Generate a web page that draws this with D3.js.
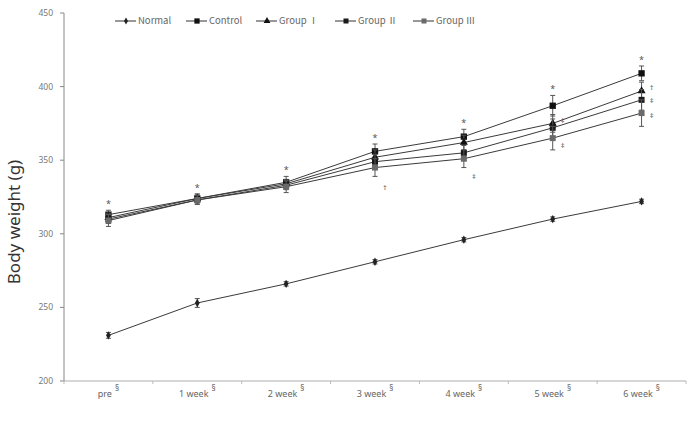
<!DOCTYPE html>
<html>
<head>
<meta charset="utf-8">
<script src="https://cdn.jsdelivr.net/npm/d3@7"></script>
<style>
body { margin: 0; background: #fff; }
svg { font-family: "Noto Sans", "DejaVu Sans", sans-serif; }
</style>
</head>
<body>
<svg id="chart" width="689" height="424"></svg>
<script>
var categories = ["pre", "1 week", "2 week", "3 week", "4 week", "5 week", "6 week"];
var seriesNames = ["Normal", "Control", "Group \u2160", "Group \u2161", "Group \u2162"];
var normal  = [231, 253, 266, 281, 296, 310, 322];
var control = [313, 324, 335, 356, 366, 387, 409];
var group1  = [311, 324, 334, 352, 362, 375, 397];
var group2  = [310, 323, 333, 349, 355, 372, 391];
var group3  = [309, 323, 332, 345, 351, 365, 382];
var normalErr  = [2, 3, 1.5, 1.5, 1.5, 1.5, 1.5];
var controlErr = [3, 3, 4, 5, 5, 7, 5];
var group1Err  = [3, 3, 3, 5, 5, 6, 6];
var group2Err  = [3, 3, 3, 5, 5, 6, 7];
var group3Err  = [4, 3, 4, 6, 6, 8, 9];
var yTicks = [200, 250, 300, 350, 400, 450];
// significance marks: category, value where it sits, symbol
var markCats = ["3 week", "4 week", "5 week", "5 week", "6 week", "6 week", "6 week"];
var markVals = [332, 339, 377, 360, 400, 391, 381];
var markSyms = ["\u2020", "\u2021", "\u2021", "\u2021", "\u2020", "\u2021", "\u2021"];

var svg = d3.select("#chart");
var plotLeft = 64, plotRight = 686, plotTop = 13, plotBottom = 381;

var x = d3.scaleBand().domain(categories).range([plotLeft, plotRight]);
var y = d3.scaleLinear().domain([200, 450]).range([plotBottom, plotTop]);

var series = [
  { name: seriesNames[0], vals: normal,  err: normalErr,  shape: d3.symbolDiamond,  size: 20, fill: "#222" },
  { name: seriesNames[1], vals: control, err: controlErr, shape: d3.symbolSquare,   size: 40, fill: "#111" },
  { name: seriesNames[2], vals: group1,  err: group1Err,  shape: d3.symbolTriangle, size: 28, fill: "#111" },
  { name: seriesNames[3], vals: group2,  err: group2Err,  shape: d3.symbolSquare,   size: 36, fill: "#1a1a1a" },
  { name: seriesNames[4], vals: group3,  err: group3Err,  shape: d3.symbolSquare,   size: 36, fill: "#6a6a6a" }
];

// Axes ---------------------------------------
svg.append("line")
  .attr("x1", plotLeft).attr("x2", plotRight).attr("y1", plotBottom).attr("y2", plotBottom)
  .attr("stroke", "#c8c8c8").attr("stroke-width", 1.5);
svg.append("line")
  .attr("x1", plotLeft).attr("x2", plotLeft).attr("y1", plotTop).attr("y2", plotBottom)
  .attr("stroke", "#888");

svg.selectAll(".ytick")
  .data(yTicks).enter().append("line")
  .attr("x1", plotLeft - 4).attr("x2", plotLeft)
  .attr("y1", function(d) { return y(d) }).attr("y2", function(d) { return y(d) })
  .attr("stroke", "#888");
svg.selectAll(".ylab")
  .data(yTicks).enter().append("text")
  .attr("x", plotLeft - 11).attr("y", function(d) { return y(d) + 3 })
  .attr("text-anchor", "end").attr("font-size", 8.5).attr("fill", "#777")
  .text(function(d) { return d });

var bounds = categories.map(function(c) { return x(c) }).concat([plotRight]);
svg.selectAll(".xtick")
  .data(bounds).enter().append("line")
  .attr("x1", function(d) { return d }).attr("x2", function(d) { return d })
  .attr("y1", plotBottom).attr("y2", plotBottom + 3)
  .attr("stroke", "#bbb");

var xl = svg.selectAll(".xlab")
  .data(categories).enter().append("text")
  .attr("x", function(d) { return x(d) + x.bandwidth()/2 })
  .attr("y", plotBottom + 16)
  .attr("text-anchor", "middle").attr("font-size", 9).attr("fill", "#666");
xl.append("tspan").text(function(d) { return d });
xl.append("tspan").attr("dx", 3).attr("dy", -6).attr("font-size", 8).text("\u00a7");

svg.append("text")
  .attr("transform", "translate(20,222) rotate(-90)")
  .attr("text-anchor", "middle").attr("font-size", 17).attr("fill", "#333")
  .text("Body weight (g)");

// Series -------------------------------------
var cx = function(i) { return x(categories[i]) + x.bandwidth()/2 };
var line = d3.line().x(function(d, i) { return cx(i) }).y(function(d) { return y(d) });

series.forEach(function(s) {
  svg.append("path").datum(s.vals)
    .attr("d", line).attr("fill", "none")
    .attr("stroke", "#3a3a3a").attr("stroke-width", 1);

  var g = svg.append("g");
  s.vals.forEach(function(v, i) {
    var e = s.err[i];
    g.append("line").attr("x1", cx(i)).attr("x2", cx(i))
      .attr("y1", y(v - e)).attr("y2", y(v + e)).attr("stroke", "#555");
    [v - e, v + e].forEach(function(w) {
      g.append("line").attr("x1", cx(i) - 2.5).attr("x2", cx(i) + 2.5)
        .attr("y1", y(w)).attr("y2", y(w)).attr("stroke", "#555");
    });
    g.append("path")
      .attr("d", d3.symbol().type(s.shape).size(s.size))
      .attr("transform", "translate(" + cx(i) + "," + y(v) + ")")
      .attr("fill", s.fill);
  });
});

// Stars above the highest group
categories.forEach(function(c, i) {
  var topVal = d3.max(series.slice(1), function(s) { return s.vals[i] + s.err[i] });
  svg.append("text")
    .attr("x", cx(i)).attr("y", y(topVal) - 3)
    .attr("text-anchor", "middle").attr("font-size", 9).attr("fill", "#555")
    .text("*");
});

markCats.forEach(function(c, i) {
  svg.append("text")
    .attr("x", x(c) + x.bandwidth()/2 + 10).attr("y", y(markVals[i]) + 3)
    .attr("text-anchor", "middle").attr("font-size", 7.5).attr("fill", "#555")
    .text(markSyms[i]);
});

// Legend -------------------------------------
var legendX = [115, 186, 256, 335, 413];
series.forEach(function(s, i) {
  var lg = svg.append("g").attr("transform", "translate(" + legendX[i] + ",21)");
  lg.append("line").attr("x1", 0).attr("x2", 21).attr("stroke", "#333");
  lg.append("path").attr("d", d3.symbol().type(s.shape).size(s.size * 0.7))
    .attr("transform", "translate(11,0)").attr("fill", s.fill);
  lg.append("text").attr("x", 23).attr("y", 3)
    .attr("font-family", "'Noto Sans CJK KR', 'Noto Sans', sans-serif")
    .attr("font-size", 9.5).attr("fill", "#666").text(s.name);
});
</script>
</body>
</html>
